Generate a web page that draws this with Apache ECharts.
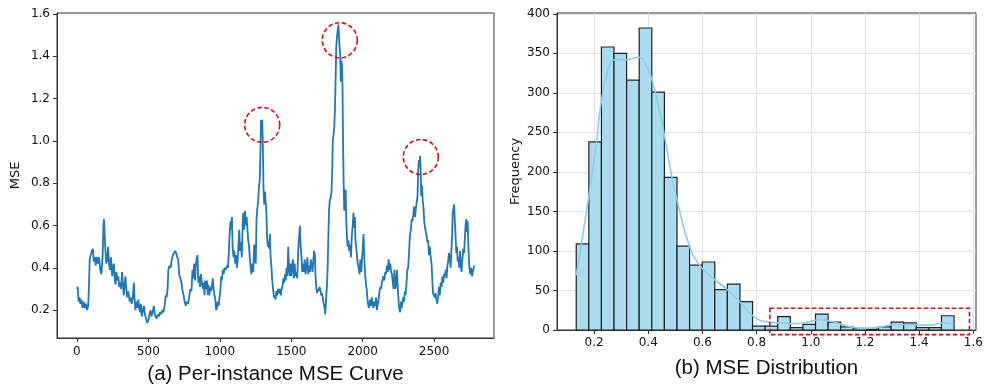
<!DOCTYPE html>
<html>
<head>
<meta charset="utf-8">
<script src="https://cdn.jsdelivr.net/npm/echarts@6/dist/echarts.min.js"></script>
<style>
  html, body { margin: 0; padding: 0; background: #fff; }
  #chart { width: 997px; height: 392px; }
</style>
</head>
<body>
<div id="chart"></div>
<script>
// (a) per-instance MSE: [instance index, mse]
var mseCurve = [
  [0,0.30],[6,0.31],[12,0.24],[18,0.26],[25,0.23],[32,0.25],[40,0.21],[48,0.24],[56,0.21],[64,0.23],
  [72,0.20],[79,0.22],[84,0.30],[90,0.44],[97,0.46],[105,0.48],[112,0.49],[118,0.43],[125,0.45],[132,0.41],
  [140,0.45],[148,0.42],[156,0.45],[164,0.39],[172,0.37],[180,0.45],[186,0.60],[190,0.63],[195,0.55],[200,0.48],
  [206,0.42],[212,0.44],[219,0.50],[225,0.42],[231,0.39],[239,0.45],[247,0.36],[253,0.40],[259,0.42],[265,0.35],
  [270,0.32],[277,0.38],[284,0.34],[290,0.36],[296,0.31],[302,0.33],[308,0.30],[317,0.38],[323,0.31],[329,0.27],
  [335,0.33],[340,0.36],[346,0.30],[352,0.26],[358,0.29],[364,0.27],[370,0.24],[376,0.26],[383,0.23],[390,0.25],
  [399,0.33],[404,0.25],[410,0.20],[417,0.24],[423,0.21],[430,0.25],[436,0.21],[442,0.19],[448,0.23],[455,0.17],
  [462,0.20],[469,0.22],[476,0.18],[484,0.16],[492,0.14],[500,0.15],[508,0.18],[515,0.20],[522,0.17],[530,0.19],
  [539,0.22],[545,0.18],[550,0.17],[558,0.16],[566,0.18],[574,0.17],[582,0.19],[590,0.18],[598,0.20],[606,0.19],
  [614,0.22],[622,0.27],[628,0.26],[635,0.30],[640,0.39],[648,0.41],[656,0.40],[664,0.44],[672,0.46],[680,0.47],
  [688,0.48],[695,0.47],[702,0.45],[709,0.44],[716,0.37],[724,0.35],[732,0.33],[740,0.29],[747,0.27],[754,0.24],
  [762,0.22],[770,0.24],[778,0.23],[786,0.26],[794,0.30],[802,0.29],[809,0.39],[815,0.35],[821,0.42],[827,0.34],
  [833,0.42],[838,0.44],[844,0.46],[850,0.33],[856,0.36],[862,0.31],[868,0.37],[875,0.37],[881,0.30],[887,0.33],
  [893,0.27],[898,0.34],[904,0.30],[910,0.34],[916,0.27],[921,0.32],[927,0.27],[933,0.31],[939,0.29],[945,0.31],
  [951,0.35],[957,0.30],[963,0.27],[969,0.25],[975,0.20],[980,0.21],[986,0.24],[992,0.22],[998,0.26],[1004,0.29],
  [1010,0.36],[1015,0.34],[1021,0.39],[1027,0.37],[1033,0.40],[1040,0.39],[1046,0.40],[1052,0.41],[1057,0.40],[1063,0.47],
  [1069,0.56],[1075,0.62],[1080,0.58],[1085,0.64],[1090,0.50],[1096,0.45],[1102,0.48],[1108,0.42],[1114,0.46],[1120,0.40],
  [1126,0.44],[1131,0.44],[1136,0.58],[1142,0.48],[1148,0.52],[1154,0.45],[1160,0.60],[1164,0.66],[1170,0.58],[1176,0.67],
  [1182,0.60],[1188,0.64],[1194,0.58],[1199,0.53],[1205,0.50],[1211,0.44],[1216,0.40],[1222,0.37],[1228,0.42],[1234,0.38],
  [1241,0.51],[1247,0.45],[1252,0.42],[1257,0.63],[1263,0.68],[1268,0.71],[1274,0.78],[1280,0.82],[1285,0.96],[1289,1.10],
  [1293,1.07],[1297,1.10],[1301,1.00],[1306,0.78],[1311,0.70],[1316,0.76],[1320,0.72],[1326,0.67],[1331,0.55],[1336,0.50],
  [1341,0.52],[1346,0.49],[1351,0.56],[1356,0.45],[1362,0.40],[1367,0.34],[1373,0.30],[1379,0.26],[1385,0.27],[1390,0.25],
  [1396,0.29],[1402,0.27],[1408,0.30],[1414,0.28],[1421,0.30],[1427,0.27],[1433,0.30],[1439,0.31],[1445,0.35],[1451,0.33],
  [1457,0.37],[1462,0.34],[1467,0.40],[1473,0.36],[1479,0.50],[1484,0.40],[1490,0.36],[1495,0.42],[1500,0.36],[1506,0.40],
  [1512,0.44],[1518,0.35],[1524,0.42],[1530,0.36],[1536,0.38],[1542,0.35],[1548,0.46],[1552,0.52],[1557,0.56],[1561,0.60],
  [1566,0.50],[1571,0.46],[1577,0.38],[1582,0.42],[1588,0.38],[1594,0.44],[1600,0.37],[1607,0.40],[1613,0.45],[1619,0.37],
  [1625,0.41],[1631,0.38],[1637,0.44],[1643,0.41],[1649,0.38],[1654,0.43],[1660,0.48],[1666,0.46],[1670,0.36],[1675,0.31],
  [1680,0.28],[1686,0.30],[1692,0.29],[1698,0.31],[1703,0.30],[1710,0.27],[1716,0.28],[1722,0.25],[1728,0.23],[1734,0.21],
  [1738,0.18],[1743,0.24],[1747,0.28],[1751,0.33],[1755,0.40],[1760,0.55],[1765,0.68],[1770,0.72],[1776,0.73],[1782,0.76],
  [1787,0.86],[1791,1.00],[1796,1.03],[1801,1.06],[1806,1.15],[1811,1.30],[1815,1.44],[1820,1.49],[1825,1.52],[1830,1.55],
  [1834,1.50],[1838,1.45],[1843,1.40],[1847,1.28],[1851,1.38],[1855,1.36],[1859,1.26],[1863,0.97],[1867,0.80],[1871,0.67],
  [1876,0.72],[1881,0.77],[1885,0.63],[1890,0.55],[1895,0.50],[1900,0.53],[1906,0.48],[1912,0.51],[1918,0.45],[1924,0.55],
  [1930,0.60],[1936,0.66],[1941,0.59],[1946,0.64],[1950,0.52],[1955,0.50],[1960,0.45],[1966,0.42],[1972,0.40],[1978,0.37],
  [1984,0.44],[1990,0.38],[1996,0.45],[2001,0.50],[2006,0.56],[2011,0.45],[2016,0.38],[2022,0.33],[2028,0.30],[2034,0.25],
  [2040,0.22],[2046,0.21],[2052,0.25],[2058,0.22],[2064,0.26],[2070,0.23],[2076,0.21],[2082,0.24],[2088,0.22],[2094,0.26],
  [2100,0.20],[2106,0.23],[2112,0.25],[2118,0.29],[2123,0.31],[2129,0.30],[2135,0.33],[2141,0.35],[2146,0.36],[2152,0.34],
  [2158,0.38],[2164,0.37],[2170,0.41],[2176,0.38],[2182,0.44],[2187,0.39],[2193,0.42],[2199,0.38],[2205,0.37],[2211,0.33],
  [2216,0.30],[2222,0.39],[2228,0.30],[2234,0.32],[2240,0.39],[2246,0.30],[2250,0.26],[2254,0.22],[2258,0.20],[2263,0.19],
  [2268,0.24],[2273,0.21],[2278,0.23],[2284,0.26],[2290,0.24],[2295,0.29],[2300,0.27],[2306,0.32],[2312,0.39],[2318,0.40],
  [2324,0.46],[2330,0.55],[2337,0.58],[2343,0.63],[2348,0.62],[2354,0.65],[2360,0.69],[2366,0.64],[2372,0.68],[2378,0.71],
  [2384,0.74],[2388,0.85],[2393,0.91],[2398,0.88],[2402,0.93],[2406,0.86],[2410,0.74],[2415,0.79],[2420,0.72],[2426,0.68],
  [2431,0.62],[2436,0.59],[2442,0.57],[2448,0.55],[2453,0.52],[2458,0.53],[2464,0.46],[2470,0.50],[2476,0.45],[2482,0.42],
  [2487,0.35],[2492,0.28],[2498,0.27],[2504,0.26],[2510,0.28],[2516,0.25],[2522,0.23],[2528,0.26],[2534,0.31],[2540,0.27],
  [2546,0.33],[2552,0.31],[2558,0.36],[2564,0.33],[2570,0.37],[2575,0.36],[2581,0.39],[2587,0.35],[2593,0.41],[2598,0.43],
  [2604,0.47],[2610,0.45],[2615,0.40],[2621,0.48],[2626,0.55],[2630,0.66],[2635,0.68],[2640,0.70],[2645,0.62],[2650,0.55],
  [2655,0.47],[2660,0.50],[2665,0.43],[2670,0.45],[2676,0.40],[2681,0.48],[2686,0.42],[2692,0.38],[2698,0.44],[2704,0.49],
  [2710,0.47],[2715,0.54],[2720,0.60],[2725,0.63],[2730,0.57],[2735,0.62],[2740,0.50],[2745,0.42],[2750,0.38],[2755,0.37],
  [2760,0.40],[2765,0.36],[2770,0.38],[2775,0.39],[2780,0.41]
];
// circled peaks on (a)
var peakIdx = [1297, 1840, 2407];
var peakMse = [1.076, 1.476, 0.924];

// (b) histogram: 30 equal bins starting at binStart
var binStart = 0.134;
var binWidth = 0.0465;
var binCounts = [109, 238, 358, 350, 316, 382, 301, 193, 106, 82,
                 86, 51, 58, 36, 5, 5, 17, 3, 7, 20,
                 10, 4, 2, 1, 4, 10, 9, 3, 3, 18];
// kde curve
var kdeX = [0.134, 0.18, 0.21, 0.222, 0.254, 0.279, 0.315, 0.364, 0.389, 0.414, 0.438, 0.463, 0.487, 0.512,
            0.549, 0.585, 0.634, 0.695, 0.744, 0.793, 0.842, 0.89, 0.951, 0.988, 1.037, 1.086, 1.135, 1.196,
            1.257, 1.318, 1.379, 1.44, 1.49, 1.527];
var kdeY = [69, 168, 240, 278, 333, 342, 342, 345, 337, 316, 283, 240, 194, 156,
            109, 84, 67, 50, 33, 16, 10, 9, 8, 10, 13, 10, 5, 2,
            4, 7, 7, 6, 9, 8];
// dashed box round the tail: [x0, x1, y0, y1]
var tailBox = [0.849, 1.586, -5.8, 27.5];

var idxTicks = [0, 500, 1000, 1500, 2000, 2500];
var mseTicks = [0.2, 0.4, 0.6, 0.8, 1.0, 1.2, 1.4, 1.6];
var binTicks = [0.2, 0.4, 0.6, 0.8, 1.0, 1.2, 1.4, 1.6];
var freqTicks = [0, 50, 100, 150, 200, 250, 300, 350, 400];

var myChart = echarts.init(document.getElementById('chart'));

var tickFont = { fontFamily: 'DejaVu Sans', fontSize: 12, color: '#111' };
var titleFont = { fontFamily: 'Liberation Sans', fontSize: 20.5, color: '#111' };

var bars = binCounts.map(function (c, i) {
    return [binStart + i * binWidth, binStart + (i + 1) * binWidth, c];
});
var kde = kdeX.map(function (x, i) { return [x, kdeY[i]]; });
var peaks = peakIdx.map(function (x, i) { return [x, peakMse[i]]; });

function fmt1(v) { return v.toFixed(1); }
function fmtInt(v) { return String(v); }

myChart.setOption({
    animation: false,
    grid: [
        { left: 57, right: 503, top: 13, bottom: 54, show: true, borderColor: '#333', borderWidth: 1 },
        { left: 557, right: 21, top: 13, bottom: 62, show: true, borderColor: '#333', borderWidth: 1 }
    ],
    xAxis: [
        {
            gridIndex: 0, type: 'value', min: -139, max: 2919,
            name: '(a) Per-instance MSE Curve', nameLocation: 'middle', nameGap: 26, nameTextStyle: titleFont,
            axisLine: { show: true, onZero: false, lineStyle: { color: '#333' } },
            axisTick: { customValues: idxTicks, length: 4, lineStyle: { color: '#333' } },
            axisLabel: Object.assign({ customValues: idxTicks, margin: 8, formatter: fmtInt }, tickFont),
            splitLine: { show: false }
        },
        {
            gridIndex: 1, type: 'value', min: 0.063, max: 1.61,
            name: '(b) MSE Distribution', nameLocation: 'middle', nameGap: 28, nameTextStyle: titleFont,
            axisLine: { show: true, onZero: false, lineStyle: { color: '#333' } },
            axisTick: { customValues: binTicks, length: 4, lineStyle: { color: '#333' } },
            axisLabel: Object.assign({ customValues: binTicks, margin: 7, formatter: fmt1 }, tickFont),
            splitLine: { show: true, lineStyle: { color: '#e3e3e3', width: 1 } }
        }
    ],
    yAxis: [
        {
            gridIndex: 0, type: 'value', min: 0.068, max: 1.605,
            name: 'MSE', nameLocation: 'middle', nameGap: 35,
            nameTextStyle: { fontFamily: 'DejaVu Sans', fontSize: 13, color: '#111' },
            axisLine: { show: true, onZero: false, lineStyle: { color: '#333' } },
            axisTick: { customValues: mseTicks, length: 4, lineStyle: { color: '#333' } },
            axisLabel: Object.assign({ customValues: mseTicks, margin: 7, formatter: fmt1 }, tickFont),
            splitLine: { show: false }
        },
        {
            gridIndex: 1, type: 'value', min: 0, max: 401,
            name: 'Frequency', nameLocation: 'middle', nameGap: 35,
            nameTextStyle: { fontFamily: 'DejaVu Sans', fontSize: 13, color: '#111' },
            axisLine: { show: true, onZero: false, lineStyle: { color: '#333' } },
            axisTick: { customValues: freqTicks, length: 4, lineStyle: { color: '#333' } },
            axisLabel: Object.assign({ customValues: freqTicks, margin: 7 }, tickFont),
            splitLine: { show: true, lineStyle: { color: '#e3e3e3', width: 1 } }
        }
    ],
    series: [
        {
            type: 'line', xAxisIndex: 0, yAxisIndex: 0, data: mseCurve,
            showSymbol: false, symbol: 'none',
            lineStyle: { color: '#1f77b4', width: 1.8 }, z: 3
        },
        {
            type: 'custom', xAxisIndex: 0, yAxisIndex: 0, data: peaks, clip: false, z: 4,
            renderItem: function (params, api) {
                var p = api.coord([api.value(0), api.value(1)]);
                return {
                    type: 'circle', shape: { cx: p[0], cy: p[1], r: 17.5 },
                    style: { fill: 'none', stroke: '#cc1111', lineWidth: 1.6, lineDash: [4.5, 2.5] }
                };
            }
        },
        {
            type: 'custom', xAxisIndex: 1, yAxisIndex: 1, data: bars, z: 2,
            encode: { x: [0, 1], y: 2 },
            renderItem: function (params, api) {
                var p0 = api.coord([api.value(0), api.value(2)]);
                var p1 = api.coord([api.value(1), 0]);
                return {
                    type: 'rect',
                    shape: { x: p0[0], y: p0[1], width: p1[0] - p0[0], height: p1[1] - p0[1] },
                    style: { fill: '#abdbef', stroke: '#222', lineWidth: 1.2 }
                };
            }
        },
        {
            type: 'line', xAxisIndex: 1, yAxisIndex: 1, data: kde, smooth: true,
            showSymbol: false, symbol: 'none',
            lineStyle: { color: '#87ceeb', width: 1.6 }, z: 3
        },
        {
            type: 'custom', xAxisIndex: 1, yAxisIndex: 1, data: [tailBox], clip: false, z: 4,
            encode: { x: [0, 1], y: [2, 3] },
            renderItem: function (params, api) {
                var a = api.coord([api.value(0), api.value(3)]);
                var b = api.coord([api.value(1), api.value(2)]);
                return {
                    type: 'rect', shape: { x: a[0], y: a[1], width: b[0] - a[0], height: b[1] - a[1] },
                    style: { fill: 'none', stroke: '#cc1111', lineWidth: 1.6, lineDash: [4.5, 2.5] }
                };
            }
        }
    ]
});
</script>
</body>
</html>
